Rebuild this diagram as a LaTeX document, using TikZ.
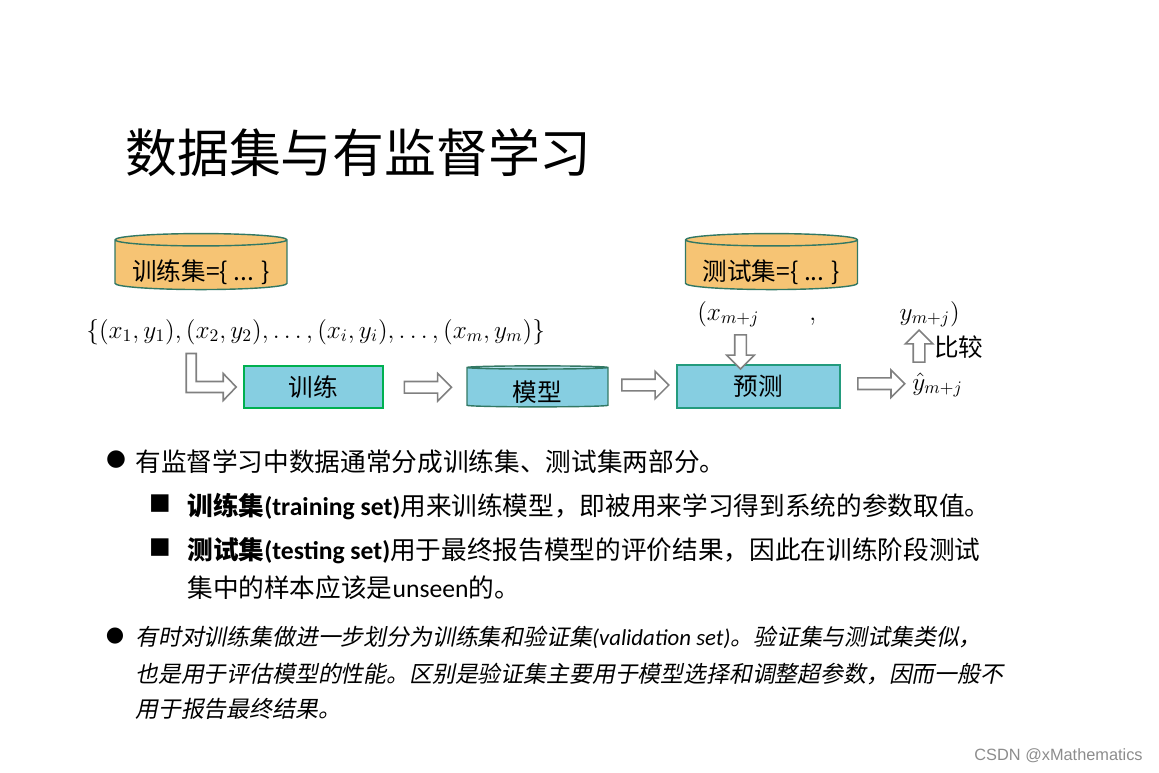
\documentclass[tikz,border=0pt]{standalone}
\usepackage{fontspec}
\setmainfont{Carlito}
\newfontfamily\cjk{Noto Sans CJK SC}
\newfontfamily\cjkit{Noto Sans CJK SC}[FakeSlant=0.2]
\newfontfamily\symfont{DejaVu Sans}
\newfontfamily\wmfont{Liberation Sans}
\usetikzlibrary{shapes.geometric,shapes.arrows,calc,positioning}
\newcommand\setfs[1]{\fontsize{#1}{#1}\selectfont}

\definecolor{dbfill}{RGB}{246,196,116}
\definecolor{dbline}{RGB}{50,120,100}
\definecolor{boxfill}{RGB}{134,206,225}
\definecolor{boxtop}{RGB}{182,226,237}
\definecolor{trainline}{RGB}{0,176,80}
\definecolor{predline}{RGB}{35,155,125}
\definecolor{arrgray}{RGB}{128,128,128}

\begin{document}
\begin{tikzpicture}[x=0.02cm, y=-0.02cm,
    every node/.style={inner sep=0pt},
    dataset/.style={cylinder, shape border rotate=90, draw=dbline, line width=0.8pt, cylinder uses custom fill, cylinder body fill=dbfill, cylinder end fill=dbfill, aspect=0.09, minimum width=3.44cm, minimum height=1.12cm, text height=0.62cm, text depth=0cm, font=\cjk\setfs{14}},
    store/.style={cylinder, shape border rotate=90, draw=dbline, line width=0.8pt, cylinder uses custom fill, cylinder body fill=boxfill, cylinder end fill=boxtop, aspect=0.065, minimum width=2.82cm, minimum height=0.82cm, text height=0.54cm, text depth=0cm, font=\cjk\setfs{14}},
    procbox/.style={draw, line width=0.9pt, fill=boxfill, font=\cjk\setfs{14}},
    harrow/.style={single arrow, draw=arrgray, fill=white, line width=0.9pt, inner sep=0.1cm, single arrow head extend=0.16cm, minimum height=0.94cm},
    body/.style={anchor=base west, font=\cjk\setfs{14.6}},
    note/.style={anchor=base west, font=\cjkit\setfs{13}},
    mathtxt/.style={anchor=base west, font=\setfs{14.5}},
    bulletmark/.style={font=\symfont\setfs{13}}
]
\useasboundingbox (0,0) rectangle (1159,772);

\node[anchor=base west, font=\cjk\setfs{29.5}] (title) at (125,172) {数据集与有监督学习};

\node[dataset] (trainset) at (201,265) {训练集=\{ ... \}};
\node[dataset] (testset) at (771.5,265) {测试集=\{ ... \}};

\node[mathtxt] (pairs) at (86,338) {$\{(x_1,y_1),(x_2,y_2),\dots,(x_i,y_i),\dots,(x_m,y_m)\}$};
\node[mathtxt] (xin) at (697,320) {$(x_{m+j}$};
\node[mathtxt] (sep) at (809,320) {$,$};
\node[mathtxt, anchor=base east] (yout) at (960,320) {$y_{m+j})$};

\node[procbox, draw=trainline, minimum width=2.78cm, minimum height=0.84cm] (train) at (313.5,387) {训练};
\node[store] (model) at (537.5,387.5) {模型};
\node[procbox, draw=predline, minimum width=3.26cm, minimum height=0.86cm] (predict) at (758.5,386.5) {预测};
\node[mathtxt] (yhat) at (912,390) {$\hat{y}_{m+j}$};
\node[anchor=west, font=\cjk\setfs{14}] (cmp) at (934,347) {比较};

\path (train.west) ++(-7,0) coordinate (ltip);
\draw[draw=arrgray, fill=white, line width=0.9pt] (ltip) -- ++(-13,-13.5) -- ++(0,8) -- ++(-27,0) -- ++(0,-28) -- ++(-10,0) -- ++(0,39) -- ++(37,0) -- ++(0,8) -- cycle;
\node[harrow] (a2) at ($(train.east)!0.5!(model.west)$) {};
\node[harrow] (a3) at ($(model.east)!0.5!(predict.west)+(0,-2)$) {};
\node[harrow] (a4) at ($(predict.east)!0.5!(yhat.west)+(2,-2)$) {};
\node[harrow, rotate=-90, minimum height=0.68cm] (a5) at (740.5,349) {};
\node[harrow, rotate=90, minimum height=0.64cm] (a6) at (919,349) {};

\node[bulletmark] (b1) at (116,460) {●};
\node[body] (l1) at (135,471) {有监督学习中数据通常分成训练集、测试集两部分。};
\node[bulletmark] (s1) at (160,503.5) {■};
\node[body] (l2) at (187,515) {{\bfseries 训练集}{\fontspec{Carlito}\bfseries (training set)}用来训练模型，即被用来学习得到系统的参数取值。};
\node[bulletmark] (s2) at (160,548) {■};
\node[body] (l3) at (187,559) {{\bfseries 测试集}{\fontspec{Carlito}\bfseries (testing set)}用于最终报告模型的评价结果，因此在训练阶段测试};
\node[body] (l4) at (187,597) {集中的样本应该是{\fontspec{Carlito}unseen}的。};

\node[bulletmark, font=\symfont\setfs{12}] (b2) at (115,636) {●};
\node[note] (n1) at (135,645) {有时对训练集做进一步划分为训练集和验证集{\fontspec{Carlito}\itshape (validation set)}。验证集与测试集类似，};
\node[note] (n2) at (135,682) {也是用于评估模型的性能。区别是验证集主要用于模型选择和调整超参数，因而一般不};
\node[note] (n3) at (135,717) {用于报告最终结果。};

\node[anchor=base east, font=\wmfont\setfs{9.3}, text=black!45] (mark) at (1143,760) {CSDN @xMathematics};
\end{tikzpicture}
\end{document}
